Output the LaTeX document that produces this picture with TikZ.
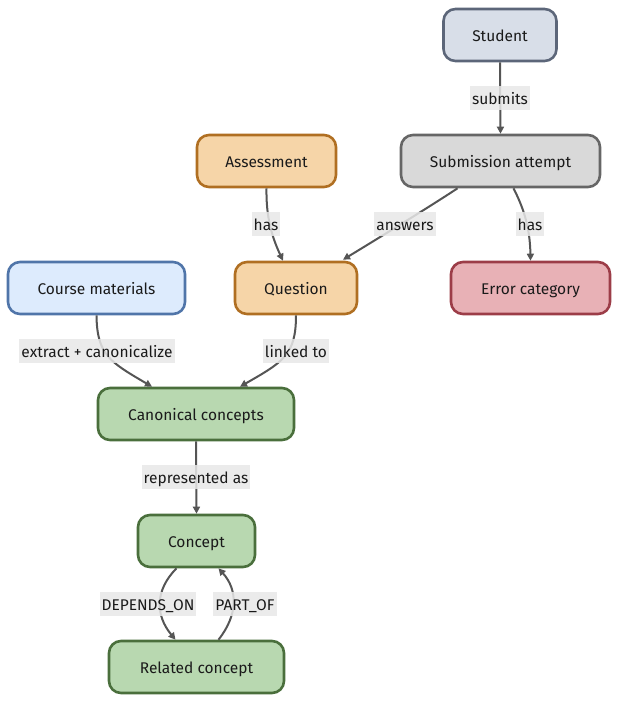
\documentclass[tikz,border=0pt]{standalone}
\usepackage{fontspec}
\setmainfont{Fira Sans}
\usetikzlibrary{arrows.meta}
\definecolor{edgec}{HTML}{555555}
\definecolor{txtc}{HTML}{1A1A1A}
\definecolor{lblbg}{HTML}{E8E8E8}
\definecolor{stuF}{HTML}{D8DEE8}\definecolor{stuD}{HTML}{5C6679}
\definecolor{subF}{HTML}{D9D9D9}\definecolor{subD}{HTML}{666666}
\definecolor{orF}{HTML}{F6D5A8}\definecolor{orD}{HTML}{B06F22}
\definecolor{blF}{HTML}{DDEBFD}\definecolor{blD}{HTML}{5075A9}
\definecolor{rdF}{HTML}{E8B1B6}\definecolor{rdD}{HTML}{9C3D48}
\definecolor{grF}{HTML}{B8D8B0}\definecolor{grD}{HTML}{4A6F3C}
\tikzset{
  box/.style={rectangle, rounded corners=12pt, line width=2.6pt, minimum height=52pt,
    font=\fontsize{15.5}{18}\selectfont, text=txtc, inner sep=0pt, text height=13pt, text depth=1pt},
  stu/.style={box, fill=stuF, draw=stuD},
  sub/.style={box, fill=subF, draw=subD},
  ora/.style={box, fill=orF, draw=orD},
  blu/.style={box, fill=blF, draw=blD},
  red/.style={box, fill=rdF, draw=rdD},
  gre/.style={box, fill=grF, draw=grD},
  conn/.style={draw=edgec, line width=2pt, -{Triangle[length=7pt,width=7pt]}},
  lbl/.style={fill=lblbg, fill opacity=0.85, text opacity=1, text=txtc,
    font=\fontsize{15.5}{18}\selectfont, inner xsep=2pt, inner ysep=5pt, text height=13pt, text depth=1pt}
}
\begin{document}
\begin{tikzpicture}[x=1pt,y=-1pt]
\useasboundingbox (0,0) rectangle (627,710);
\node[stu, minimum width=113pt] (stu) at (500,35) {Student};
\node[sub, minimum width=199pt] (sub) at (500.5,161) {Submission attempt};
\node[ora, minimum width=139pt] (ass) at (266.5,161) {Assessment};
\node[blu, minimum width=177pt] (cm) at (96.5,288) {Course materials};
\node[ora, minimum width=122pt] (q) at (296,288) {Question};
\node[red, minimum width=159pt] (err) at (530.5,288) {Error category};
\node[gre, minimum width=196pt] (cc) at (196,414) {Canonical concepts};
\node[gre, minimum width=117pt] (con) at (196.5,541) {Concept};
\node[gre, minimum width=175pt] (rel) at (196.5,667) {Related concept};

\draw[conn] (stu.south) -- (sub.north);
\draw[conn] (ass.south) .. controls (266,215) and (271,235) .. ([xshift=-13pt]q.north);
\draw[conn] ([xshift=-43pt]sub.south) .. controls (440,200) and (400,225) .. ([xshift=47pt,yshift=1pt]q.north);
\draw[conn] ([xshift=13pt]sub.south) .. controls (522,205) and (530,225) .. (err.north);
\draw[conn] (cm.south) .. controls (97,355) and (110,362) .. ([xshift=-44pt]cc.north);
\draw[conn] (q.south) .. controls (296,355) and (283,362) .. ([xshift=44pt]cc.north);
\draw[conn] (cc.south) -- (con.north);
\draw[conn] ([xshift=-20pt]con.south) .. controls (155,590) and (155,615) .. ([xshift=-21pt]rel.north);
\draw[conn] ([xshift=22pt]rel.north) .. controls (238,615) and (238,590) .. ([xshift=22pt]con.south);

\node[lbl] (l1) at (500,98) {submits};
\node[lbl] (l2) at (266,224) {has};
\node[lbl] (l3) at (405,224) {answers};
\node[lbl] (l4) at (530,224) {has};
\node[lbl] (l5) at (97,351) {extract + canonicalize};
\node[lbl] (l6) at (296,351) {linked to};
\node[lbl] (l7) at (196,477) {represented as};
\node[lbl] (l8) at (148,604) {DEPENDS\_ON};
\node[lbl] (l9) at (245,604) {PART\_OF};
\end{tikzpicture}
\end{document}
